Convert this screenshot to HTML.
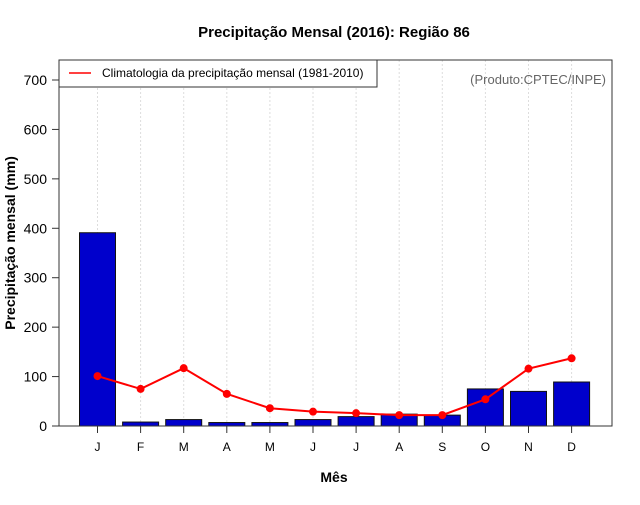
<!DOCTYPE html>
<html><head><meta charset="utf-8"><style>
body{margin:0;background:#fff}
svg text{font-family:"Liberation Sans",sans-serif}
</style></head><body>
<svg id="c" width="640" height="500">
<text x="334" y="37" text-anchor="middle" font-size="15" font-weight="bold">Precipitação Mensal (2016): Região 86</text>
<text x="334" y="482" text-anchor="middle" font-size="14" font-weight="bold">Mês</text>
<text transform="translate(15,243) rotate(-90)" text-anchor="middle" font-size="14" font-weight="bold">Precipitação mensal (mm)</text>
<g id="grid"></g><g id="bars"></g><g id="line"></g><g id="axes"></g>
<rect x="59" y="60" width="553" height="366" fill="none" stroke="#333" stroke-width="1"/>
<g>
<rect x="59" y="60" width="318" height="27" fill="#fff" stroke="#333"/>
<line x1="69" y1="73" x2="91" y2="73" stroke="red" stroke-width="1.5"/>
<text x="102" y="77" font-size="12">Climatologia da precipitação mensal (1981-2010)</text>
</g>
<text x="606" y="84" text-anchor="end" font-size="13" fill="#666">(Produto:CPTEC/INPE)</text>
</svg>
<script>
const months=["J","F","M","A","M","J","J","A","S","O","N","D"];
const observed=[391,8,13,7,7,13,19,24,22,75,70,89];
const climatology=[101,75,117,65,36,29,26,22,22,54,116,137];
const yTicks=[0,100,200,300,400,500,600,700];
const NS="http://www.w3.org/2000/svg";
const X=i=>97.5+i*43.1;
const Y=v=>426-v*(346/700);
function mk(t,a,p){const e=document.createElementNS(NS,t);for(const k in a)e.setAttribute(k,a[k]);document.getElementById(p).appendChild(e);return e;}
months.forEach((m,i)=>{
 const g=mk("line",{x1:X(i),x2:X(i),y1:60,y2:426,stroke:"#ddd","stroke-dasharray":"2,2"},"grid");
 
 
 const b=mk("rect",{x:X(i)-18,y:Y(observed[i]),width:36,height:426-Y(observed[i]),fill:"#0000cc",stroke:"#111"},"bars");
 
 
 const tk=mk("line",{x1:X(i),x2:X(i),y1:426,y2:433,stroke:"#333"},"axes");
 
 
 const t=mk("text",{x:X(i),y:451,"text-anchor":"middle","font-size":"12"},"axes");
 t.textContent=m;
 
 
});
const pl=mk("polyline",{points:climatology.map((v,i)=>X(i)+","+Y(v)).join(" "),fill:"none",stroke:"red","stroke-width":"2"},"line");


climatology.forEach((v,i)=>{
 const c=mk("circle",{cx:X(i),cy:Y(v),r:4,fill:"red"},"line");
 
 
});
yTicks.forEach(v=>{
 const l=mk("line",{x1:52,x2:59,y1:Y(v),y2:Y(v),stroke:"#333"},"axes");
 
 
 const t=mk("text",{x:47,y:Y(v)+5,"text-anchor":"end","font-size":"14"},"axes");
 t.textContent=v;
 
 
});
</script>
</body></html>
